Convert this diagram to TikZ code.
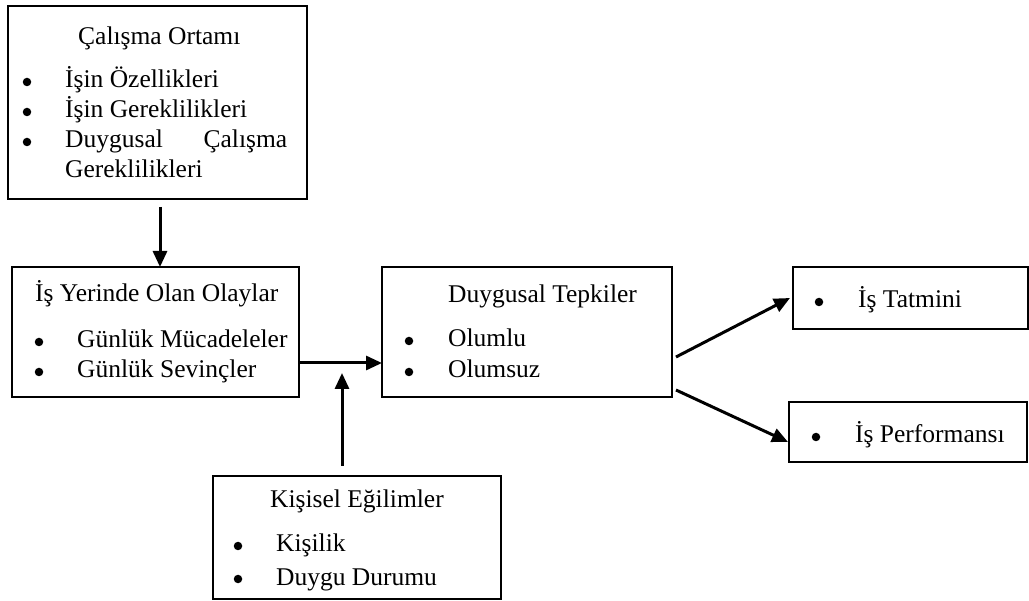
\documentclass[tikz,border=0pt]{standalone}
\usepackage{fontspec}
\setmainfont{Liberation Serif}
\usetikzlibrary{arrows.meta}
\begin{document}
\begin{tikzpicture}[x=1pt,y=-1pt,
  box/.style={draw=black, line width=1.8pt, inner sep=0pt, outer sep=0pt, anchor=north west},
  txt/.style={anchor=base west, inner sep=0pt, font=\fontsize{25.5}{30}\selectfont},
  dot/.style={circle, fill=black, inner sep=0pt, minimum size=8.5pt},
  link/.style={line width=3pt, -{Triangle[length=16pt,width=14pt]}}]
\useasboundingbox (0,0) rectangle (1029,601);

% frames
\node[box, minimum width=299pt, minimum height=193pt] (env) at (8,6) {};
\node[box, minimum width=287pt, minimum height=130pt] (events) at (12,267) {};
\node[box, minimum width=290pt, minimum height=130pt] (react) at (382,267) {};
\node[box, minimum width=235pt, minimum height=62pt] (sat) at (793,267) {};
\node[box, minimum width=238pt, minimum height=60pt] (perf) at (789,402) {};
\node[box, minimum width=288pt, minimum height=123pt] (pers) at (213,476) {};

% working environment
\node[txt] (envT) at (78,45) {Çalışma Ortamı};
\node[dot] (envB1) at (27,82) {};
\node[dot] (envB2) at (27,112) {};
\node[dot] (envB3) at (27,142) {};
\node[txt] (envI1) at (65,88) {İşin Özellikleri};
\node[txt] (envI2) at (65,118) {İşin Gereklilikleri};
\node[txt] (envI3) at (65,148) {\hbox to 222pt{Duygusal\hfill Çalışma}};
\node[txt] (envI4) at (65,178) {Gereklilikleri};

% workplace events
\node[txt] (evT) at (35,302) {İş Yerinde Olan Olaylar};
\node[dot] (evB1) at (39,342) {};
\node[dot] (evB2) at (39,372) {};
\node[txt] (evI1) at (77,348) {Günlük Mücadeleler};
\node[txt] (evI2) at (77,378) {Günlük Sevinçler};

% affective reactions
\node[txt] (reT) at (448,303) {Duygusal Tepkiler};
\node[dot] (reB1) at (409,341) {};
\node[dot] (reB2) at (409,372) {};
\node[txt] (reI1) at (448,347) {Olumlu};
\node[txt] (reI2) at (448,378) {Olumsuz};

% outcomes
\node[dot] (satB) at (819,302) {};
\node[txt] (satI) at (858,308) {İş Tatmini};
\node[dot] (perfB) at (816,437) {};
\node[txt] (perfI) at (855,443) {İş Performansı};

% dispositions
\node[txt] (peT) at (270,508) {Kişisel Eğilimler};
\node[dot] (peB1) at (238,546) {};
\node[dot] (peB2) at (238,579) {};
\node[txt] (peI1) at (276,552) {Kişilik};
\node[txt] (peI2) at (276,585) {Duygu Durumu};

% connectors
\coordinate (join) at (342,373);
\draw[link] ([xshift=152pt,yshift=-8pt]env.south west) -- ([xshift=148pt]events.north west);
\draw[link] ([yshift=-31pt]events.east) -- ([yshift=-31pt]react.west);
\draw[link] ([xshift=129pt,yshift=10pt]pers.north west) -- (join);
\draw[link] ([xshift=4pt,yshift=-25pt]react.east) -- ([xshift=-3pt]sat.west);
\draw[link] ([xshift=4pt,yshift=-58pt]react.east) -- ([xshift=-1pt,yshift=-10pt]perf.west);
\end{tikzpicture}
\end{document}
